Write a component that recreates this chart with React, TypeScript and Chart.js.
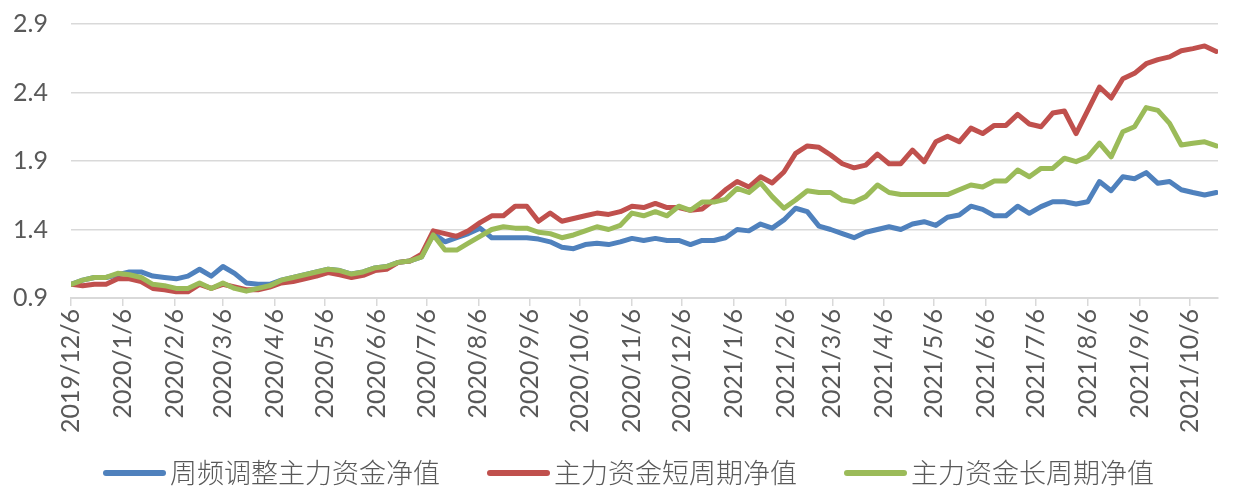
import React, { useEffect, useRef } from "react";
import { Chart, registerables } from "chart.js";

Chart.register(...registerables);

const dates: string[] = [
  "2019/12/6", "2019/12/13", "2019/12/20", "2019/12/27",
  "2020/1/3", "2020/1/10", "2020/1/17", "2020/1/24", "2020/1/31",
  "2020/2/7", "2020/2/14", "2020/2/21", "2020/2/28",
  "2020/3/6", "2020/3/13", "2020/3/20", "2020/3/27",
  "2020/4/3", "2020/4/10", "2020/4/17", "2020/4/24",
  "2020/5/1", "2020/5/8", "2020/5/15", "2020/5/22", "2020/5/29",
  "2020/6/5", "2020/6/12", "2020/6/19", "2020/6/26",
  "2020/7/3", "2020/7/10", "2020/7/17", "2020/7/24", "2020/7/31",
  "2020/8/7", "2020/8/14", "2020/8/21", "2020/8/28",
  "2020/9/4", "2020/9/11", "2020/9/18", "2020/9/25",
  "2020/10/2", "2020/10/9", "2020/10/16", "2020/10/23", "2020/10/30",
  "2020/11/6", "2020/11/13", "2020/11/20", "2020/11/27",
  "2020/12/4", "2020/12/11", "2020/12/18", "2020/12/25",
  "2021/1/1", "2021/1/8", "2021/1/15", "2021/1/22", "2021/1/29",
  "2021/2/5", "2021/2/12", "2021/2/19", "2021/2/26",
  "2021/3/5", "2021/3/12", "2021/3/19", "2021/3/26",
  "2021/4/2", "2021/4/9", "2021/4/16", "2021/4/23", "2021/4/30",
  "2021/5/7", "2021/5/14", "2021/5/21", "2021/5/28",
  "2021/6/4", "2021/6/11", "2021/6/18", "2021/6/25",
  "2021/7/2", "2021/7/9", "2021/7/16", "2021/7/23", "2021/7/30",
  "2021/8/6", "2021/8/13", "2021/8/20", "2021/8/27",
  "2021/9/3", "2021/9/10", "2021/9/17", "2021/9/24",
  "2021/10/1", "2021/10/8", "2021/10/15", "2021/10/22",
];

const weeklyAdjusted: number[] = [
  1.0, 1.03, 1.05, 1.05, 1.07, 1.09, 1.09, 1.06, 1.05, 1.04,
  1.06, 1.11, 1.06, 1.13, 1.08, 1.01, 1.0, 1.0, 1.03, 1.05,
  1.07, 1.09, 1.11, 1.1, 1.075, 1.09, 1.12, 1.13, 1.16, 1.17,
  1.2, 1.37, 1.31, 1.34, 1.37, 1.41, 1.34, 1.34, 1.34, 1.34,
  1.33, 1.31, 1.27, 1.26, 1.29, 1.3, 1.29, 1.31, 1.335, 1.32,
  1.335, 1.32, 1.32, 1.29, 1.32, 1.32, 1.34, 1.4, 1.39, 1.44,
  1.41, 1.47, 1.555, 1.53, 1.425, 1.4, 1.37, 1.34, 1.38, 1.4,
  1.42, 1.4, 1.44, 1.457, 1.43, 1.49, 1.506, 1.57, 1.547, 1.5,
  1.5, 1.57, 1.518, 1.567, 1.603, 1.603, 1.586, 1.603, 1.75, 1.683,
  1.785, 1.77, 1.815, 1.737, 1.75, 1.69, 1.67, 1.652, 1.67,
];

const shortCycle: number[] = [
  1.0, 0.99, 1.0, 1.0, 1.04, 1.04, 1.02, 0.97, 0.96, 0.945,
  0.945, 1.0, 0.97, 1.0, 0.98, 0.96, 0.96, 0.98, 1.01, 1.02,
  1.04, 1.06, 1.085, 1.07, 1.05, 1.065, 1.1, 1.11, 1.16, 1.17,
  1.22, 1.39, 1.37, 1.35, 1.39, 1.45, 1.5, 1.5, 1.57, 1.57,
  1.46, 1.52, 1.46, 1.48, 1.5, 1.52, 1.51, 1.53, 1.57, 1.56,
  1.59, 1.56, 1.56, 1.54, 1.55, 1.615, 1.69, 1.75, 1.71, 1.785,
  1.74, 1.82, 1.956, 2.01, 2.0, 1.944, 1.88, 1.85, 1.87, 1.95,
  1.88, 1.88, 1.98, 1.895, 2.04, 2.08, 2.04, 2.14, 2.1, 2.16,
  2.16, 2.24, 2.17, 2.15, 2.25, 2.265, 2.1, 2.27, 2.44, 2.36,
  2.5, 2.54, 2.61, 2.64, 2.66, 2.705, 2.72, 2.74, 2.7,
];

const longCycle: number[] = [
  1.0, 1.03, 1.05, 1.05, 1.08, 1.07, 1.05, 1.0, 0.99, 0.97,
  0.97, 1.01, 0.97, 1.01, 0.97, 0.95, 0.97, 0.99, 1.03, 1.05,
  1.07, 1.09, 1.11, 1.1, 1.075, 1.09, 1.12, 1.13, 1.16, 1.17,
  1.2, 1.36, 1.25, 1.25, 1.3, 1.35, 1.4, 1.42, 1.41, 1.41,
  1.38, 1.37, 1.34, 1.36, 1.39, 1.42, 1.4, 1.43, 1.52, 1.5,
  1.53, 1.5, 1.57, 1.54, 1.6, 1.6, 1.62, 1.7, 1.67, 1.74,
  1.64, 1.555, 1.615, 1.683, 1.67, 1.67, 1.615, 1.6, 1.64, 1.725,
  1.67, 1.655, 1.655, 1.655, 1.655, 1.655, 1.69, 1.725, 1.71, 1.754,
  1.754, 1.834, 1.785, 1.846, 1.846, 1.92, 1.895, 1.93, 2.03, 1.93,
  2.114, 2.15, 2.29, 2.27, 2.175, 2.017, 2.03, 2.04, 2.01,
];

const xTickLabels: string[] = [
  "2019/12/6", "2020/1/6", "2020/2/6", "2020/3/6", "2020/4/6", "2020/5/6",
  "2020/6/6", "2020/7/6", "2020/8/6", "2020/9/6", "2020/10/6", "2020/11/6",
  "2020/12/6", "2021/1/6", "2021/2/6", "2021/3/6", "2021/4/6", "2021/5/6",
  "2021/6/6", "2021/7/6", "2021/8/6", "2021/9/6", "2021/10/6",
];

const yTicks: number[] = [0.9, 1.4, 1.9, 2.4, 2.9];

const seriesNames: string[] = ["周频调整主力资金净值", "主力资金短周期净值", "主力资金长周期净值"];
const seriesColors: string[] = ["#4f81bd", "#c0504d", "#9bbb59"];

const axisEndDate = "2021/10/23";

const DAY = 86400000;
function dayOf(s: string): number {
  const [y, m, d] = s.split("/").map(Number);
  const [y0, m0, d0] = dates[0].split("/").map(Number);
  return Math.round((Date.UTC(y, m - 1, d) - Date.UTC(y0, m0 - 1, d0)) / DAY);
}

const TEXT = "#595959";
const GRID = "#d9d9d9";
const NUM_FONT = "Lato, 'Liberation Sans', sans-serif";
const CJK_FONT = "'Noto Sans CJK SC', sans-serif";

const legendPlugin = {
  id: "bottomLegend",
  afterDraw(chart: any) {
    const ctx = chart.ctx;
    ctx.save();
    ctx.font = `300 27px ${CJK_FONT}`;
    ctx.textBaseline = "middle";
    ctx.textAlign = "left";
    const y = 473;
    let x = 103;
    seriesNames.forEach((name, i) => {
      ctx.strokeStyle = seriesColors[i];
      ctx.lineWidth = 6;
      ctx.lineCap = "round";
      ctx.beginPath();
      ctx.moveTo(x + 3, y);
      ctx.lineTo(x + 60, y);
      ctx.stroke();
      ctx.fillStyle = TEXT;
      ctx.fillText(name, x + 67, y);
      x += 67 + ctx.measureText(name).width + 47;
    });
    ctx.restore();
  },
};

export default function App() {
  const ref = useRef<HTMLCanvasElement | null>(null);
  useEffect(() => {
    if (!ref.current) return;
    const series = [weeklyAdjusted, shortCycle, longCycle];
    const chart = new Chart(ref.current, {
      type: "line",
      data: {
        datasets: series.map((vals, i) => ({
          label: seriesNames[i],
          data: dates.map((d, k) => ({ x: dayOf(d), y: vals[k] })),
          borderColor: seriesColors[i],
          backgroundColor: seriesColors[i],
          borderWidth: 5,
          pointRadius: 0,
          tension: 0,
          borderJoinStyle: "round" as const,
          borderCapStyle: "round" as const,
          order: 2 - i,
        })),
      },
      options: {
        animation: false,
        responsive: true,
        maintainAspectRatio: false,
        layout: { padding: { top: 24, right: 15, left: 0, bottom: 0 } },
        plugins: {
          legend: { display: false },
          tooltip: { enabled: false },
        },
        scales: {
          x: {
            type: "linear",
            min: 0,
            max: dayOf(axisEndDate),
            afterBuildTicks: (s: any) => {
              s.ticks = xTickLabels.map((l) => ({ value: dayOf(l) }));
            },
            afterFit: (s: any) => {
              s.height = 203;
            },
            ticks: {
              autoSkip: false,
              maxRotation: 90,
              minRotation: 90,
              padding: 3,
              color: TEXT,
              font: { size: 25, family: NUM_FONT },
              callback: (v: any) => {
                const idx = xTickLabels.findIndex((l) => dayOf(l) === v);
                return idx >= 0 ? xTickLabels[idx] : "";
              },
            },
            grid: {
              drawOnChartArea: false,
              drawTicks: true,
              tickLength: 8,
              color: GRID,
              lineWidth: 1.5,
            },
            border: { color: GRID, width: 2 },
          },
          y: {
            min: yTicks[0],
            max: yTicks[yTicks.length - 1],
            afterBuildTicks: (s: any) => {
              s.ticks = yTicks.map((v) => ({ value: v }));
            },
            afterFit: (s: any) => {
              s.width = 71;
              s.paddingTop = 0;
              s.paddingBottom = 0;
            },
            ticks: {
              padding: 23,
              color: TEXT,
              font: { size: 25, family: NUM_FONT },
              callback: (v: any) => Number(v).toFixed(1),
            },
            grid: { color: GRID, lineWidth: 1.5, drawTicks: false },
            border: { display: false },
          },
        },
      },
      plugins: [legendPlugin],
    });
    return () => chart.destroy();
  }, []);
  return (
    <div style={{ position: "fixed", left: 0, top: 0, width: 1233, height: 501, background: "#fff" }}>
      <canvas ref={ref} />
    </div>
  );
}
